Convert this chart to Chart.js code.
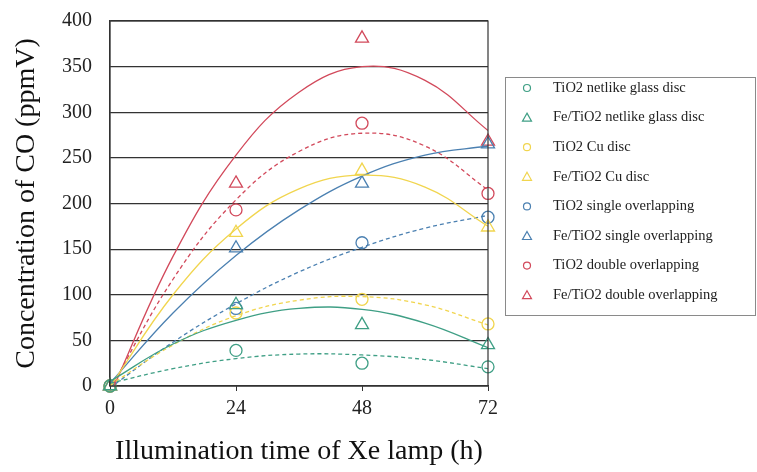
<!DOCTYPE html>
<html>
<head>
<meta charset="utf-8">
<script src="https://cdn.jsdelivr.net/npm/chart.js@4/dist/chart.umd.min.js"></script>
<style>
  html, body { margin: 0; padding: 0; background: #fff; }
  #wrap { width: 757px; height: 472px; }
</style>
</head>
<body>
<div id="wrap"><canvas id="co"></canvas></div>
<script>
// measured points (h -> ppmV)
const hours = [0, 24, 48, 72];
const tioNetlike = [0, 39, 25, 21];
const feNetlike = [0, 89, 67, 45];
const tioCu = [0, 80, 95, 68];
const feCu = [0, 168, 236, 174];
const tioSingle = [0, 85, 157, 185];
const feSingle = [0, 151, 222, 265];
const tioDouble = [0, 193, 288, 211];
const feDouble = [0, 222, 381, 268];

// trendline values
const trendHours = [0, 12, 24, 36, 48, 60, 72];
const tioNetlikeTrend = [3, 19, 30, 35, 34, 29, 19];
const feNetlikeTrend = [5, 46, 72, 85, 84, 69, 42];
const tioCuTrend = [1, 45, 77, 94, 98, 89, 67];
const feCuTrend = [-1, 100, 172, 216, 231, 218, 175];
const tioSingleTrend = [-2, 48, 90, 125, 152, 173, 187];
const feSingleTrend = [3, 80, 143, 193, 230, 253, 263];
const tioDoubleTrend = [-4, 117, 204, 257, 277, 263, 215];
const feDoubleTrend = [-10, 142, 253, 322, 350, 335, 280];

const labels = [
  "TiO2 netlike glass disc", "Fe/TiO2 netlike glass disc",
  "TiO2 Cu disc", "Fe/TiO2 Cu disc",
  "TiO2 single overlapping", "Fe/TiO2 single overlapping",
  "TiO2 double overlapping", "Fe/TiO2 double overlapping"
];
const colors = ["#3f9f85", "#3f9f85", "#f1d54e", "#f1d54e", "#4b80b1", "#4b80b1", "#d2495b", "#d2495b"];
const points = [tioNetlike, feNetlike, tioCu, feCu, tioSingle, feSingle, tioDouble, feDouble];
const trends = [tioNetlikeTrend, feNetlikeTrend, tioCuTrend, feCuTrend, tioSingleTrend, feSingleTrend, tioDoubleTrend, feDoubleTrend];

const serif = "'Liberation Serif', 'Times New Roman', serif";

let datasets = [];
trends.forEach((t, i) => {
  datasets.push({
    label: labels[i] + " trend",
    data: t.map((v, j) => ({ x: trendHours[j], y: v })),
    showLine: true,
    borderColor: colors[i],
    borderWidth: 1.3,
    borderDash: i % 2 === 0 ? [4, 3] : [],
    pointRadius: 0,
    tension: 0.4,
    clip: 0
  });
});
points.forEach((p, i) => {
  datasets.push({
    label: labels[i],
    data: p.map((v, j) => ({ x: hours[j], y: v })),
    showLine: false,
    pointStyle: i % 2 === 0 ? "circle" : "triangle",
    pointRadius: i % 2 === 0 ? 6 : 7.5,
    pointBorderWidth: 1.3,
    borderColor: colors[i],
    backgroundColor: "rgba(0,0,0,0)",
    clip: false
  });
});

// box round the plot and the side legend
const frame = {
  id: "frame",
  afterDatasetsDraw(chart) {
    const { ctx, chartArea: a } = chart;
    ctx.save();
    ctx.strokeStyle = "#333";
    ctx.lineWidth = 1.2;
    ctx.strokeRect(a.left, a.top, a.right - a.left, a.bottom - a.top);

    ctx.strokeStyle = "#8a8a8a";
    ctx.lineWidth = 1;
    ctx.strokeRect(505.5, 77.5, 250, 238);
    ctx.font = "14.5px " + serif;
    ctx.fillStyle = "#222";
    ctx.textBaseline = "middle";
    labels.forEach((lab, i) => {
      const y = 88 + i * 29.6;
      ctx.strokeStyle = colors[i];
      ctx.lineWidth = 1.2;
      ctx.beginPath();
      if (i % 2 === 0) {
        ctx.arc(527, y, 3.5, 0, Math.PI * 2);
      } else {
        ctx.moveTo(527, y - 4.5);
        ctx.lineTo(531.5, y + 3.5);
        ctx.lineTo(522.5, y + 3.5);
        ctx.closePath();
      }
      ctx.stroke();
      ctx.fillText(lab, 553, y);
    });
    ctx.restore();
  }
};

new Chart(document.getElementById("co"), {
  type: "scatter",
  data: { datasets },
  plugins: [frame],
  options: {
    responsive: true,
    maintainAspectRatio: false,
    animation: false,
    layout: { padding: { top: 21, right: 269, left: 0, bottom: 0 } },
    plugins: {
      legend: { display: false },
      tooltip: { enabled: false }
    },
    scales: {
      x: {
        type: "linear",
        min: 0,
        max: 72,
        afterFit: s => { s.height = 86; },
        ticks: { stepSize: 24, color: "#222", padding: 6, font: { family: serif, size: 20 } },
        grid: { drawOnChartArea: false, tickLength: 5, color: "#333" },
        border: { color: "#333", width: 1.2 },
        title: {
          display: true,
          text: "Illumination time of Xe lamp (h)",
          color: "#111",
          padding: { top: 25 },
          font: { family: serif, size: 28 }
        }
      },
      y: {
        min: 0,
        max: 400,
        afterFit: s => { s.width = 110; s.paddingTop = 0; s.paddingBottom = 0; },
        ticks: { stepSize: 50, color: "#222", padding: 18, font: { family: serif, size: 20 } },
        grid: { color: "#333", lineWidth: 1.2, drawTicks: false },
        border: { color: "#333", width: 1.2 },
        title: {
          display: true,
          text: "Concentration of CO (ppmV)",
          color: "#111",
          padding: { bottom: 0, top: 10 },
          font: { family: serif, size: 28 }
        }
      }
    }
  }
});
</script>
</body>
</html>
